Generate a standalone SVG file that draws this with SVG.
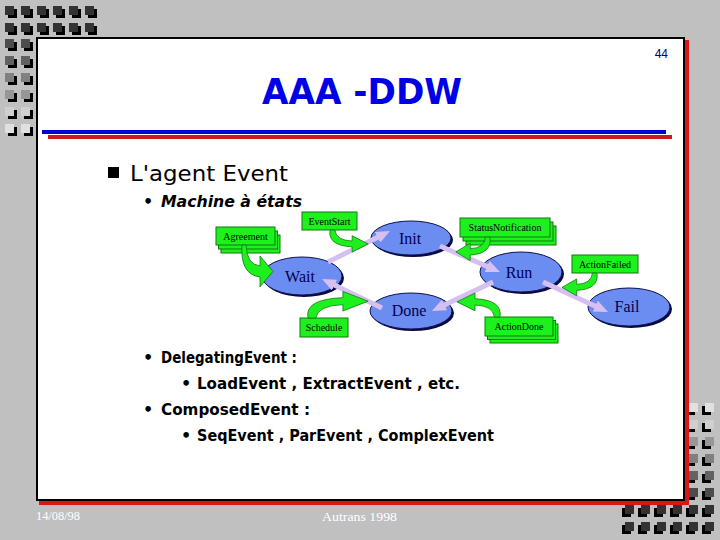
<svg xmlns="http://www.w3.org/2000/svg" xmlns:xlink="http://www.w3.org/1999/xlink" width="720" height="540" viewBox="0 0 720 540">
<defs>
<style>
.sh{fill:#000}
.d1{fill:#333}.d2{fill:#4c4c4c}.d3{fill:#626262}.d4{fill:#808080}.d5{fill:#979797}.d6{fill:#cfcfcf}.d7{fill:#e0e0e0}
.bul{font-family:"DejaVu Sans","Liberation Sans",sans-serif;font-weight:bold;fill:#000}
.h1{font-family:"DejaVu Sans","Liberation Sans",sans-serif;font-weight:normal;fill:#000}
.lbl{font-family:"Liberation Serif",serif;font-size:10px;fill:#000}
.st{font-family:"Liberation Serif",serif;font-size:16px;fill:#000050;text-anchor:middle}
.ell{fill:#6b8cf0;stroke:#101050;stroke-width:1}
.esh{fill:#0a0a40}
.gbox{fill:#1ef01e;stroke:#0b7a0b;stroke-width:1}
.sw{fill:#1ef01e;stroke:#0b7a0b;stroke-width:0.8}
.tr{stroke:#d6c0f2;stroke-width:5;fill:none;marker-end:url(#ah)}
.foot{font-family:"Liberation Serif",serif;font-size:13px;fill:#fff}
</style>
<marker id="ah" markerWidth="14" markerHeight="12" refX="2" refY="6" orient="auto" markerUnits="userSpaceOnUse"><path d="M0,0 L14,6 L0,12 Z" fill="#d6c0f2"/></marker>
<path id="swoosh" d="M0,0 L4,0 Q5,18 18,19 L18,10 L31,24 L18,38 L18,29 Q-2,27 0,0 Z" vector-effect="non-scaling-stroke"/>
</defs>
<rect width="720" height="540" fill="#c0c0c0"/>
<g id="deco-topleft">
<g class="sh">
<rect x="8" y="9" width="9" height="9"/><rect x="24" y="9" width="9" height="9"/><rect x="40" y="9" width="9" height="9"/><rect x="56" y="9" width="9" height="9"/><rect x="72" y="9" width="9" height="9"/><rect x="88" y="9" width="9" height="9"/>
<rect x="8" y="26" width="9" height="9"/><rect x="24" y="26" width="9" height="9"/><rect x="40" y="26" width="9" height="9"/><rect x="56" y="26" width="9" height="9"/><rect x="72" y="26" width="9" height="9"/><rect x="88" y="26" width="9" height="9"/>
<rect x="8" y="42" width="9" height="9"/><rect x="24" y="42" width="9" height="9"/>
<rect x="8" y="59" width="9" height="9"/><rect x="24" y="59" width="9" height="9"/>
<rect x="8" y="76" width="9" height="9"/><rect x="24" y="76" width="9" height="9"/>
<rect x="8" y="93" width="9" height="9"/><rect x="24" y="93" width="9" height="9"/>
<rect x="8" y="110" width="9" height="9"/><rect x="24" y="110" width="9" height="9"/>
<rect x="8" y="127" width="9" height="9"/><rect x="24" y="127" width="9" height="9"/>
</g>
<g class="d1"><rect x="5" y="6" width="9" height="9"/><rect x="21" y="6" width="9" height="9"/><rect x="37" y="6" width="9" height="9"/><rect x="53" y="6" width="9" height="9"/><rect x="69" y="6" width="9" height="9"/><rect x="85" y="6" width="9" height="9"/>
<rect x="5" y="23" width="9" height="9"/><rect x="21" y="23" width="9" height="9"/><rect x="37" y="23" width="9" height="9"/><rect x="53" y="23" width="9" height="9"/><rect x="69" y="23" width="9" height="9"/><rect x="85" y="23" width="9" height="9"/></g>
<g class="d2"><rect x="5" y="39" width="9" height="9"/><rect x="21" y="39" width="9" height="9"/></g>
<g class="d3"><rect x="5" y="56" width="9" height="9"/><rect x="21" y="56" width="9" height="9"/></g>
<g class="d4"><rect x="5" y="73" width="9" height="9"/><rect x="21" y="73" width="9" height="9"/></g>
<g class="d5"><rect x="5" y="90" width="9" height="9"/><rect x="21" y="90" width="9" height="9"/></g>
<g class="d6"><rect x="5" y="107" width="9" height="9"/><rect x="21" y="107" width="9" height="9"/></g>
<g class="d7"><rect x="5" y="124" width="9" height="9"/><rect x="21" y="124" width="9" height="9"/></g>
</g>
<g id="deco-bottomright">
<g class="sh">
<rect x="686" y="406" width="9" height="9"/><rect x="702" y="406" width="9" height="9"/>
<rect x="686" y="423" width="9" height="9"/><rect x="702" y="423" width="9" height="9"/>
<rect x="686" y="440" width="9" height="9"/><rect x="702" y="440" width="9" height="9"/>
<rect x="686" y="457" width="9" height="9"/><rect x="702" y="457" width="9" height="9"/>
<rect x="686" y="474" width="9" height="9"/><rect x="702" y="474" width="9" height="9"/>
<rect x="686" y="491" width="9" height="9"/><rect x="702" y="491" width="9" height="9"/>
<rect x="622" y="508" width="9" height="9"/><rect x="638" y="508" width="9" height="9"/><rect x="654" y="508" width="9" height="9"/><rect x="670" y="508" width="9" height="9"/><rect x="686" y="508" width="9" height="9"/><rect x="702" y="508" width="9" height="9"/>
<rect x="622" y="525" width="9" height="9"/><rect x="638" y="525" width="9" height="9"/><rect x="654" y="525" width="9" height="9"/><rect x="670" y="525" width="9" height="9"/><rect x="686" y="525" width="9" height="9"/><rect x="702" y="525" width="9" height="9"/>
</g>
<g class="d7"><rect x="689" y="403" width="9" height="9"/><rect x="705" y="403" width="9" height="9"/></g>
<g class="d6"><rect x="689" y="420" width="9" height="9"/><rect x="705" y="420" width="9" height="9"/></g>
<g class="d5"><rect x="689" y="437" width="9" height="9"/><rect x="705" y="437" width="9" height="9"/></g>
<g class="d4"><rect x="689" y="454" width="9" height="9"/><rect x="705" y="454" width="9" height="9"/></g>
<g class="d3"><rect x="689" y="471" width="9" height="9"/><rect x="705" y="471" width="9" height="9"/></g>
<g class="d2"><rect x="689" y="488" width="9" height="9"/><rect x="705" y="488" width="9" height="9"/></g>
<g class="d1"><rect x="625" y="505" width="9" height="9"/><rect x="641" y="505" width="9" height="9"/><rect x="657" y="505" width="9" height="9"/><rect x="673" y="505" width="9" height="9"/><rect x="689" y="505" width="9" height="9"/><rect x="705" y="505" width="9" height="9"/>
<rect x="625" y="522" width="9" height="9"/><rect x="641" y="522" width="9" height="9"/><rect x="657" y="522" width="9" height="9"/><rect x="673" y="522" width="9" height="9"/><rect x="689" y="522" width="9" height="9"/><rect x="705" y="522" width="9" height="9"/></g>
</g>
<g id="slide">
<rect x="39" y="40" width="650" height="465" fill="#d41818"/>
<rect x="37" y="38" width="647" height="462" fill="#fff" stroke="#000" stroke-width="2"/>
<text x="668" y="58" text-anchor="end" font-family="Liberation Sans,sans-serif" font-size="12" fill="#000080">44</text>
<text x="362" y="104" text-anchor="middle" font-family="DejaVu Sans,sans-serif" font-weight="bold" font-size="36" fill="#0000e6" textLength="200" lengthAdjust="spacingAndGlyphs">AAA -DDW</text>
<rect x="42" y="130" width="624" height="4" fill="#0000d8"/>
<rect x="48" y="135" width="624" height="4" fill="#d01818"/>
<rect x="108" y="167" width="11" height="11" fill="#000"/>
<text class="h1" x="130" y="181" font-size="22" textLength="158" lengthAdjust="spacingAndGlyphs">L'agent Event</text>
<text class="bul" x="143" y="207" font-size="16">•</text>
<text class="bul" x="161" y="207" font-size="16" font-style="italic" textLength="141" lengthAdjust="spacingAndGlyphs">Machine à états</text>
<text class="bul" x="143" y="363" font-size="16">•</text>
<text class="bul" x="161" y="363" font-size="16" textLength="136" lengthAdjust="spacingAndGlyphs">DelegatingEvent  :</text>
<text class="bul" x="181" y="389" font-size="16">•</text>
<text class="bul" x="197" y="389" font-size="16" textLength="263" lengthAdjust="spacingAndGlyphs">LoadEvent , ExtractEvent , etc.</text>
<text class="bul" x="143" y="415" font-size="16">•</text>
<text class="bul" x="161" y="415" font-size="16" textLength="149" lengthAdjust="spacingAndGlyphs">ComposedEvent  :</text>
<text class="bul" x="181" y="441" font-size="16">•</text>
<text class="bul" x="197" y="441" font-size="16" textLength="297" lengthAdjust="spacingAndGlyphs">SeqEvent , ParEvent , ComplexEvent</text>
</g>
<g id="footer">
<text class="foot" x="36" y="520" textLength="44" lengthAdjust="spacingAndGlyphs">14/08/98</text>
<text class="foot" x="322" y="521" font-size="14" textLength="75" lengthAdjust="spacingAndGlyphs">Autrans 1998</text>
</g>
<g id="state-init"><ellipse class="esh" cx="413" cy="240" rx="40" ry="17"/><ellipse class="ell" cx="411" cy="238" rx="40" ry="17"/><text class="st" x="410" y="244">Init</text></g>
<g id="state-wait"><ellipse class="esh" cx="304" cy="278" rx="40" ry="19"/><ellipse class="ell" cx="302" cy="276" rx="40" ry="19"/><text class="st" x="300" y="282">Wait</text></g>
<g id="state-done"><ellipse class="esh" cx="413" cy="313" rx="41" ry="18"/><ellipse class="ell" cx="411" cy="311" rx="41" ry="18"/><text class="st" x="409" y="316">Done</text></g>
<g id="state-run"><ellipse class="esh" cx="523" cy="274" rx="41" ry="20"/><ellipse class="ell" cx="521" cy="272" rx="41" ry="20"/><text class="st" x="519" y="278">Run</text></g>
<g id="state-fail"><ellipse class="esh" cx="631" cy="309" rx="41" ry="19"/><ellipse class="ell" cx="629" cy="307" rx="41" ry="19"/><text class="st" x="627" y="312">Fail</text></g>
<g id="event-eventstart"><rect class="gbox" x="302" y="212" width="55" height="18"/><text class="lbl" x="329.5" y="225" text-anchor="middle">EventStart</text></g>
<g id="event-agreement"><rect class="gbox" x="221" y="235" width="59" height="18"/><rect class="gbox" x="218.5" y="231" width="59" height="18"/><rect class="gbox" x="216" y="227" width="59" height="18"/><text class="lbl" x="245.5" y="240" text-anchor="middle">Agreement</text></g>
<g id="event-schedule"><rect class="gbox" x="300" y="318" width="48" height="19"/><text class="lbl" x="324" y="331" text-anchor="middle">Schedule</text></g>
<g id="event-statusnotification"><rect class="gbox" x="466" y="226" width="90" height="19"/><rect class="gbox" x="463" y="222" width="90" height="19"/><rect class="gbox" x="460" y="218" width="90" height="19"/><text class="lbl" x="505" y="231" text-anchor="middle">StatusNotification</text></g>
<g id="event-actionfailed"><rect class="gbox" x="572" y="255" width="66" height="18"/><text class="lbl" x="605" y="268" text-anchor="middle">ActionFailed</text></g>
<g id="event-actiondone"><rect class="gbox" x="490" y="324" width="68" height="19"/><rect class="gbox" x="487.5" y="320.5" width="68" height="19"/><rect class="gbox" x="485" y="317" width="68" height="19"/><text class="lbl" x="519" y="330" text-anchor="middle">ActionDone</text></g>
<g id="connectors">
<line class="tr" x1="328" y1="262" x2="379.3" y2="236.4"/>
<line class="tr" x1="440" y1="246" x2="489" y2="267.2"/>
<line class="tr" x1="493" y1="282" x2="442.8" y2="305.8"/>
<line class="tr" x1="382" y1="308" x2="332.8" y2="284.2"/>
<line class="tr" x1="543" y1="282" x2="597.1" y2="307"/>
<use class="sw" xlink:href="#swoosh" transform="translate(242,245) scale(1,1.1)"/>
<use class="sw" xlink:href="#swoosh" transform="translate(330,230) scale(1.23,0.58)"/>
<use class="sw" xlink:href="#swoosh" transform="translate(308,318) scale(1.94,-0.7)"/>
<use class="sw" xlink:href="#swoosh" transform="translate(490,237) scale(-1.1,0.62)"/>
<use class="sw" xlink:href="#swoosh" transform="translate(597,273) scale(-1.13,0.6)"/>
<use class="sw" xlink:href="#swoosh" transform="translate(500,317) scale(-1.39,-0.63)"/>
</g>
</svg>
